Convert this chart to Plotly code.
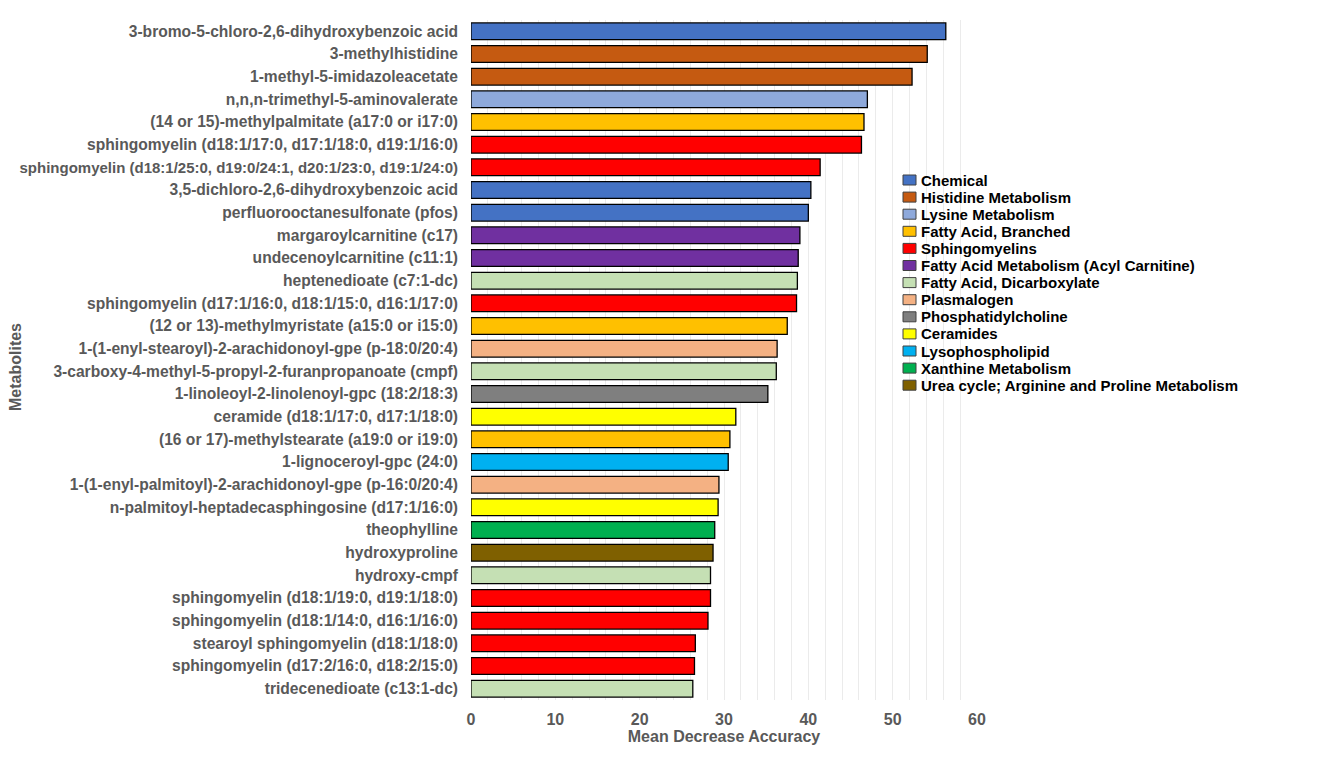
import plotly.graph_objects as go

metabolites = [
    "3-bromo-5-chloro-2,6-dihydroxybenzoic acid",
    "3-methylhistidine",
    "1-methyl-5-imidazoleacetate",
    "n,n,n-trimethyl-5-aminovalerate",
    "(14 or 15)-methylpalmitate (a17:0 or i17:0)",
    "sphingomyelin (d18:1/17:0, d17:1/18:0, d19:1/16:0)",
    "sphingomyelin (d18:1/25:0, d19:0/24:1, d20:1/23:0, d19:1/24:0)",
    "3,5-dichloro-2,6-dihydroxybenzoic acid",
    "perfluorooctanesulfonate (pfos)",
    "margaroylcarnitine (c17)",
    "undecenoylcarnitine (c11:1)",
    "heptenedioate (c7:1-dc)",
    "sphingomyelin (d17:1/16:0, d18:1/15:0, d16:1/17:0)",
    "(12 or 13)-methylmyristate (a15:0 or i15:0)",
    "1-(1-enyl-stearoyl)-2-arachidonoyl-gpe (p-18:0/20:4)",
    "3-carboxy-4-methyl-5-propyl-2-furanpropanoate (cmpf)",
    "1-linoleoyl-2-linolenoyl-gpc (18:2/18:3)",
    "ceramide (d18:1/17:0, d17:1/18:0)",
    "(16 or 17)-methylstearate (a19:0 or i19:0)",
    "1-lignoceroyl-gpc (24:0)",
    "1-(1-enyl-palmitoyl)-2-arachidonoyl-gpe (p-16:0/20:4)",
    "n-palmitoyl-heptadecasphingosine (d17:1/16:0)",
    "theophylline",
    "hydroxyproline",
    "hydroxy-cmpf",
    "sphingomyelin (d18:1/19:0, d19:1/18:0)",
    "sphingomyelin (d18:1/14:0, d16:1/16:0)",
    "stearoyl sphingomyelin (d18:1/18:0)",
    "sphingomyelin (d17:2/16:0, d18:2/15:0)",
    "tridecenedioate (c13:1-dc)",
]

values = [56.3, 54.1, 52.3, 47.0, 46.6, 46.3, 41.4, 40.3, 40.0, 39.0,
          38.8, 38.7, 38.6, 37.5, 36.3, 36.2, 35.2, 31.4, 30.7, 30.5,
          29.4, 29.3, 28.9, 28.7, 28.4, 28.4, 28.1, 26.6, 26.5, 26.3]

groups = [
    "Chemical", "Histidine Metabolism", "Histidine Metabolism", "Lysine Metabolism",
    "Fatty Acid, Branched", "Sphingomyelins", "Sphingomyelins", "Chemical", "Chemical",
    "Fatty Acid Metabolism (Acyl Carnitine)", "Fatty Acid Metabolism (Acyl Carnitine)",
    "Fatty Acid, Dicarboxylate", "Sphingomyelins", "Fatty Acid, Branched", "Plasmalogen",
    "Fatty Acid, Dicarboxylate", "Phosphatidylcholine", "Ceramides", "Fatty Acid, Branched",
    "Lysophospholipid", "Plasmalogen", "Ceramides", "Xanthine Metabolism",
    "Urea cycle; Arginine and Proline Metabolism", "Fatty Acid, Dicarboxylate",
    "Sphingomyelins", "Sphingomyelins", "Sphingomyelins", "Sphingomyelins",
    "Fatty Acid, Dicarboxylate",
]

legend_order = [
    "Chemical", "Histidine Metabolism", "Lysine Metabolism", "Fatty Acid, Branched",
    "Sphingomyelins", "Fatty Acid Metabolism (Acyl Carnitine)", "Fatty Acid, Dicarboxylate",
    "Plasmalogen", "Phosphatidylcholine", "Ceramides", "Lysophospholipid",
    "Xanthine Metabolism", "Urea cycle; Arginine and Proline Metabolism",
]

group_colors = {
    "Chemical": "#4472C4",
    "Histidine Metabolism": "#C55A11",
    "Lysine Metabolism": "#8EA9DB",
    "Fatty Acid, Branched": "#FFC000",
    "Sphingomyelins": "#FF0000",
    "Fatty Acid Metabolism (Acyl Carnitine)": "#7030A0",
    "Fatty Acid, Dicarboxylate": "#C5E0B4",
    "Plasmalogen": "#F4B183",
    "Phosphatidylcholine": "#7F7F7F",
    "Ceramides": "#FFFF00",
    "Lysophospholipid": "#00B0F0",
    "Xanthine Metabolism": "#00B050",
    "Urea cycle; Arginine and Proline Metabolism": "#7F6000",
}

FONT = "Liberation Sans, Arial, sans-serif"
grey = "#595959"

# figure geometry (page has an 8px body margin)
W, H = 1335, 754
L, R, T, B = 463, 366, 12, 62
PW, PH = W - L - R, H - T - B

fig = go.Figure()
for g in legend_order:
    ys = [m for m, gg in zip(metabolites, groups) if gg == g]
    xs = [v for v, gg in zip(values, groups) if gg == g]
    fig.add_trace(go.Bar(
        x=xs, y=ys, name=g, orientation="h",
        marker=dict(color=group_colors[g], line=dict(color="black", width=1.3)),
        showlegend=False,
    ))

# tick labels: shrink only the one label too long to fit in the page
ticktext = [
    f'<span style="font-size:15px">{m}</span>' if len(m) > 55 else m
    for m in metabolites
]

# custom compact legend, like the original
shapes = []
annotations = []
for i, g in enumerate(legend_order):
    yc = 172 + 17.1 * i
    y0 = (H - B - (yc + 5)) / PH
    y1 = (H - B - (yc - 5)) / PH
    x0 = (895 - L) / PW
    x1 = (908 - L) / PW
    shapes.append(dict(type="rect", xref="paper", yref="paper", x0=x0, x1=x1, y0=y0, y1=y1,
                       fillcolor=group_colors[g], line=dict(color="#404040", width=1)))
    annotations.append(dict(text=g, xref="paper", yref="paper",
                            x=(911 - L) / PW, y=(H - B - yc) / PH,
                            xanchor="left", yanchor="middle", showarrow=False,
                            font=dict(size=15, color="black", weight="bold", family=FONT)))

annotations.append(dict(
    text="Metabolites", xref="paper", yref="paper",
    x=(7 - L) / PW, y=(H - B - 359) / PH,
    xanchor="center", yanchor="middle", textangle=-90, showarrow=False,
    font=dict(size=16, color=grey, weight="bold", family=FONT),
))

fig.update_layout(
    width=W, height=H,
    margin=dict(l=L, r=R, t=T, b=B, autoexpand=False),
    paper_bgcolor="white", plot_bgcolor="white",
    barmode="relative", bargap=0.26,
    font=dict(family=FONT),
    showlegend=False,
    xaxis=dict(
        range=[0, 60], dtick=10, tick0=0,
        showgrid=True, gridcolor="#EBEBEB", gridwidth=1,
        minor=dict(dtick=2, showgrid=True, gridcolor="#EBEBEB", gridwidth=1),
        zeroline=False, showline=False,
        tickfont=dict(size=16, color=grey, weight="bold"),
        ticks="", ticklen=0, ticklabelstandoff=8,
        title=dict(text="Mean Decrease Accuracy", font=dict(size=16, color=grey, weight="bold"), standoff=2),
        automargin=False,
    ),
    yaxis=dict(
        categoryorder="array", categoryarray=metabolites[::-1],
        tickmode="array", tickvals=metabolites, ticktext=ticktext,
        range=[-0.5, len(metabolites) - 0.5],
        tickfont=dict(size=15.6, color=grey, weight="bold"),
        ticks="", showgrid=False, zeroline=False, showline=False,
        automargin=False, ticklabelstandoff=12,
    ),
    shapes=shapes,
    annotations=annotations,
)

fig.write_html("out.html")
